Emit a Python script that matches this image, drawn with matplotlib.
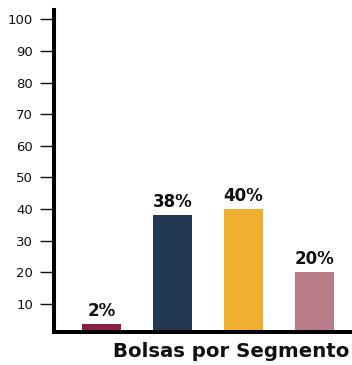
import matplotlib
matplotlib.use("Agg")
from matplotlib import pyplot as plt

# data
segments = ["A", "B", "C", "D"]
values = [3.5, 38, 40, 20]
labels = ["2%", "38%", "40%", "20%"]
colors = ["#8b2046", "#223750", "#f0ae2e", "#b87d88"]
yticks = [10, 20, 30, 40, 50, 60, 70, 80, 90, 100]

plt.rcParams['font.family'] = ['DejaVu Sans']

fig = plt.figure(figsize=(3.52, 3.65), dpi=100)
ax = fig.add_axes([54 / 352, 33 / 365, 1 - 54 / 352, (355 - 33) / 365])

x = list(range(len(segments)))
bars = ax.bar(x, values, width=0.56, color=colors, zorder=2)

for rect, lab in zip(bars, labels):
	ax.annotate(lab, (rect.get_x() + rect.get_width() / 2, rect.get_height()),
		xytext=(0, 3), textcoords='offset points', ha='center', va='bottom',
		fontsize=12, fontweight='bold', color='#111111')

ax.set_xlim(-0.67, 3.53)
ax.set_ylim(1.1, 103)
ax.set_yticks(yticks)
ax.set_xticks([])
ax.tick_params(axis='y', length=10, width=1, pad=5, labelsize=9.5, colors='#111111')

for side in ['top', 'right']:
	ax.spines[side].set_visible(False)
for side in ['left', 'bottom']:
	ax.spines[side].set_linewidth(2.9)
	ax.spines[side].set_color('black')

# x label sits right of the axes centre, flush with the right edge
fig.text(113 / 352, 1 - 357 / 365, "Bolsas por Segmento", ha='left', va='baseline',
	fontsize=14.2, fontweight='bold', color='#111111')

fig.savefig("out.png", dpi=100)
